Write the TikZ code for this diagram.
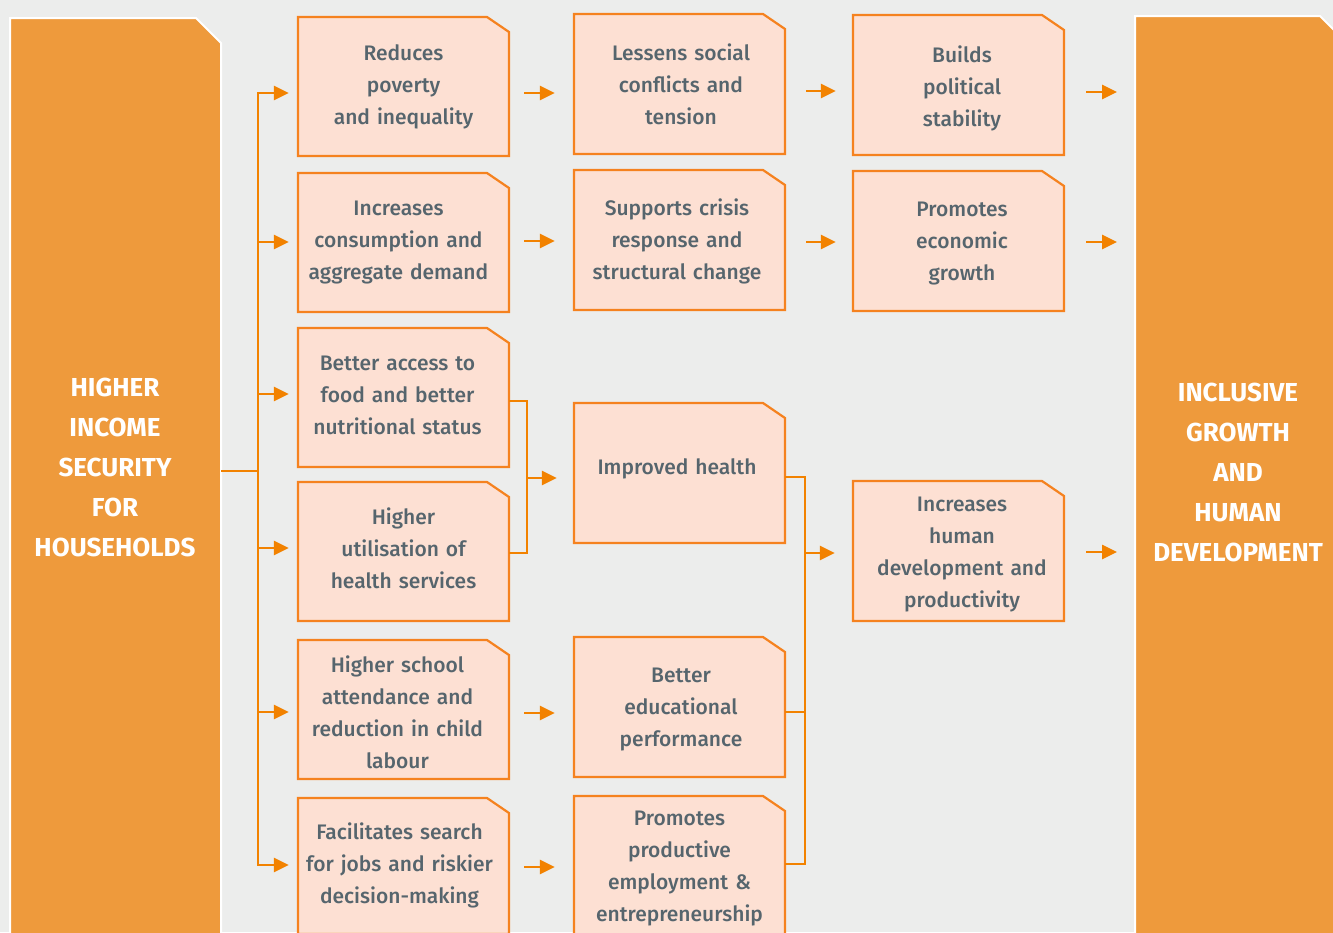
\documentclass[tikz,border=0pt]{standalone}
\usepackage{fontspec}
\setmainfont{Fira Sans}[UprightFont={* Medium}, BoldFont={* Bold}]
\usetikzlibrary{arrows.meta}
\definecolor{bgc}{HTML}{ECEDEC}
\definecolor{bigc}{HTML}{EE9A3C}
\definecolor{linec}{HTML}{F5821F}
\definecolor{arrc}{HTML}{F28200}
\definecolor{fillc}{HTML}{FDE0D3}
\definecolor{txtc}{HTML}{56656D}
\tikzset{
  boxline/.style={fill=fillc, draw=linec, line width=2.2pt},
  frame/.style={inner sep=0pt},
  bigbox/.style={fill=bigc, draw=white, line width=2pt},
  boxtext/.style={inner sep=0pt, text width=205pt, align=center, text=txtc,
    font=\fontsize{21}{32}\selectfont},
  bigtext/.style={inner sep=0pt, text width=210pt, align=center, text=white,
    font=\fontsize{26}{40}\selectfont\bfseries},
  conn/.style={draw=arrc, line width=2.6pt},
  arr/.style={draw=arrc, line width=2.6pt, -{Triangle[length=15pt,width=14pt]}},
}
% name, x1, y1, x2, y2, dx, dy, text
\newcommand\cbox[8]{%
  \filldraw[boxline] (#2,#3) -- ({#4-22},#3) -- (#4,{#3+15}) -- (#4,#5) -- (#2,#5) -- cycle;
  \node[frame, minimum width={(#4-#2)*1pt}, minimum height={(#5-#3)*1pt}] (#1) at ({(#2+#4)/2},{(#3+#5)/2}) {};
  \node[boxtext] (#1t) at ({(#2+#4)/2+#6},{(#3+#5)/2+#7}) {#8};}
\begin{document}
\begin{tikzpicture}[x=1pt,y=-1pt]
\useasboundingbox (0,0) rectangle (1333,932);
\clip (0,0) rectangle (1333,932);
\fill[bgc] (0,0) rectangle (1333,932);
% big boxes
\filldraw[bigbox] (10,18) -- (196,18) -- (221,43) -- (221,960) -- (10,960) -- cycle;
\node[bigtext] (L) at (115,467) {HIGHER\\INCOME\\SECURITY\\FOR\\HOUSEHOLDS};
\filldraw[bigbox] (1135,16) -- (1320,16) -- (1345,41) -- (1345,960) -- (1135,960) -- cycle;
\node[bigtext] (R) at (1238,472) {INCLUSIVE\\GROWTH\\AND\\HUMAN\\DEVELOPMENT};
% column 1
\cbox{a1}{298}{17}{509}{156}{0}{0}{Reduces\\poverty\\and inequality}
\cbox{a2}{298}{173}{509}{312}{-5}{0}{Increases\\consumption and\\aggregate demand}
\cbox{a3}{298}{328}{509}{467}{-6}{-2}{Better access to\\food and better\\nutritional status}
\cbox{a4}{298}{482}{509}{621}{0}{-3}{Higher\\utilisation of\\health services}
\cbox{a5}{298}{640}{509}{779}{-6}{3}{Higher school\\attendance and\\reduction in child\\labour}
\cbox{a6}{298}{798}{509}{934}{-4}{-1}{Facilitates search\\for jobs and riskier\\decision-making}
% column 2
\cbox{b1}{574}{14}{785}{154}{1.5}{0.5}{Lessens social\\conflicts and\\tension}
\cbox{b2}{574}{170}{785}{310}{-2.5}{1.5}{Supports crisis\\response and\\structural change}
\cbox{b3}{574}{403}{785}{543}{-2.5}{-4}{Improved health}
\cbox{b4}{574}{637}{785}{777}{1.5}{3}{Better\\educational\\performance}
\cbox{b5}{574}{796}{785}{936}{0}{3}{Promotes\\productive\\employment \&\\entrepreneurship}
% column 3
\cbox{c1}{853}{15}{1064}{155}{3.5}{3}{Builds\\political\\stability}
\cbox{c2}{853}{171}{1064}{311}{3.5}{2.5}{Promotes\\economic\\growth}
\cbox{c3}{853}{481}{1064}{621}{3.5}{4}{Increases\\human\\development and\\productivity}
% trunk and bus
\coordinate (Lr) at (221,471);
\coordinate (bus) at (258,471);
\draw[conn] (Lr) -- (bus);
\draw[conn] (258,92) -- (258,866);
\foreach \n/\dy in {a1/-6.5,a2/0.5,a3/3.5,a4/3.5,a5/-2.5,a6/1}
  \draw[arr, shorten >=9pt] ([yshift=\dy pt]bus |- \n.west) -- ([yshift=\dy pt]\n.west);
% column arrows
\draw[arr, shorten <=15pt, shorten >=19pt] ([yshift=-6.5pt]a1.east) -- ([yshift=-9pt]b1.west);
\draw[arr, shorten <=15pt, shorten >=19pt] ([yshift=1.5pt]a2.east) -- ([yshift=-1pt]b2.west);
\draw[arr, shorten <=15pt, shorten >=19pt] ([yshift=-3.5pt]a5.east) -- ([yshift=-6pt]b4.west);
\draw[arr, shorten <=15pt, shorten >=19pt] ([yshift=-1pt]a6.east) -- ([yshift=-1pt]b5.west);
\draw[arr, shorten <=21pt, shorten >=17pt] ([yshift=-7pt]b1.east) -- ([yshift=-6pt]c1.west);
\draw[arr, shorten <=21pt, shorten >=17pt] ([yshift=-2pt]b2.east) -- ([yshift=-1pt]c2.west);
\draw[arr, shorten <=22pt, shorten >=18pt] ([yshift=-7pt]c1.east) -- (1135,92);
\draw[arr, shorten <=22pt, shorten >=18pt] ([yshift=-1pt]c2.east) -- (1135,242);
\draw[arr, shorten <=22pt, shorten >=18pt] ([yshift=-1pt]c3.east) -- (1135,552);
% merge bracket 1
\coordinate (m1) at (527,478);
\draw[conn] ([yshift=-3.5pt]a3.east) -| (m1) |- ([yshift=-1.5pt]a4.east);
\draw[arr, shorten >=17pt] (m1) -- (b3.west |- m1);
% merge bracket 2
\coordinate (m2) at (805,553);
\draw[conn] ([yshift=-4pt]b3.east) -| (m2);
\draw[conn] ([yshift=-5pt]b4.east) -| (m2);
\draw[conn] ([yshift=2pt]b5.east) -| (m2);
\draw[arr, shorten >=18pt] (m2) -- (c3.west |- m2);
\end{tikzpicture}
\end{document}
